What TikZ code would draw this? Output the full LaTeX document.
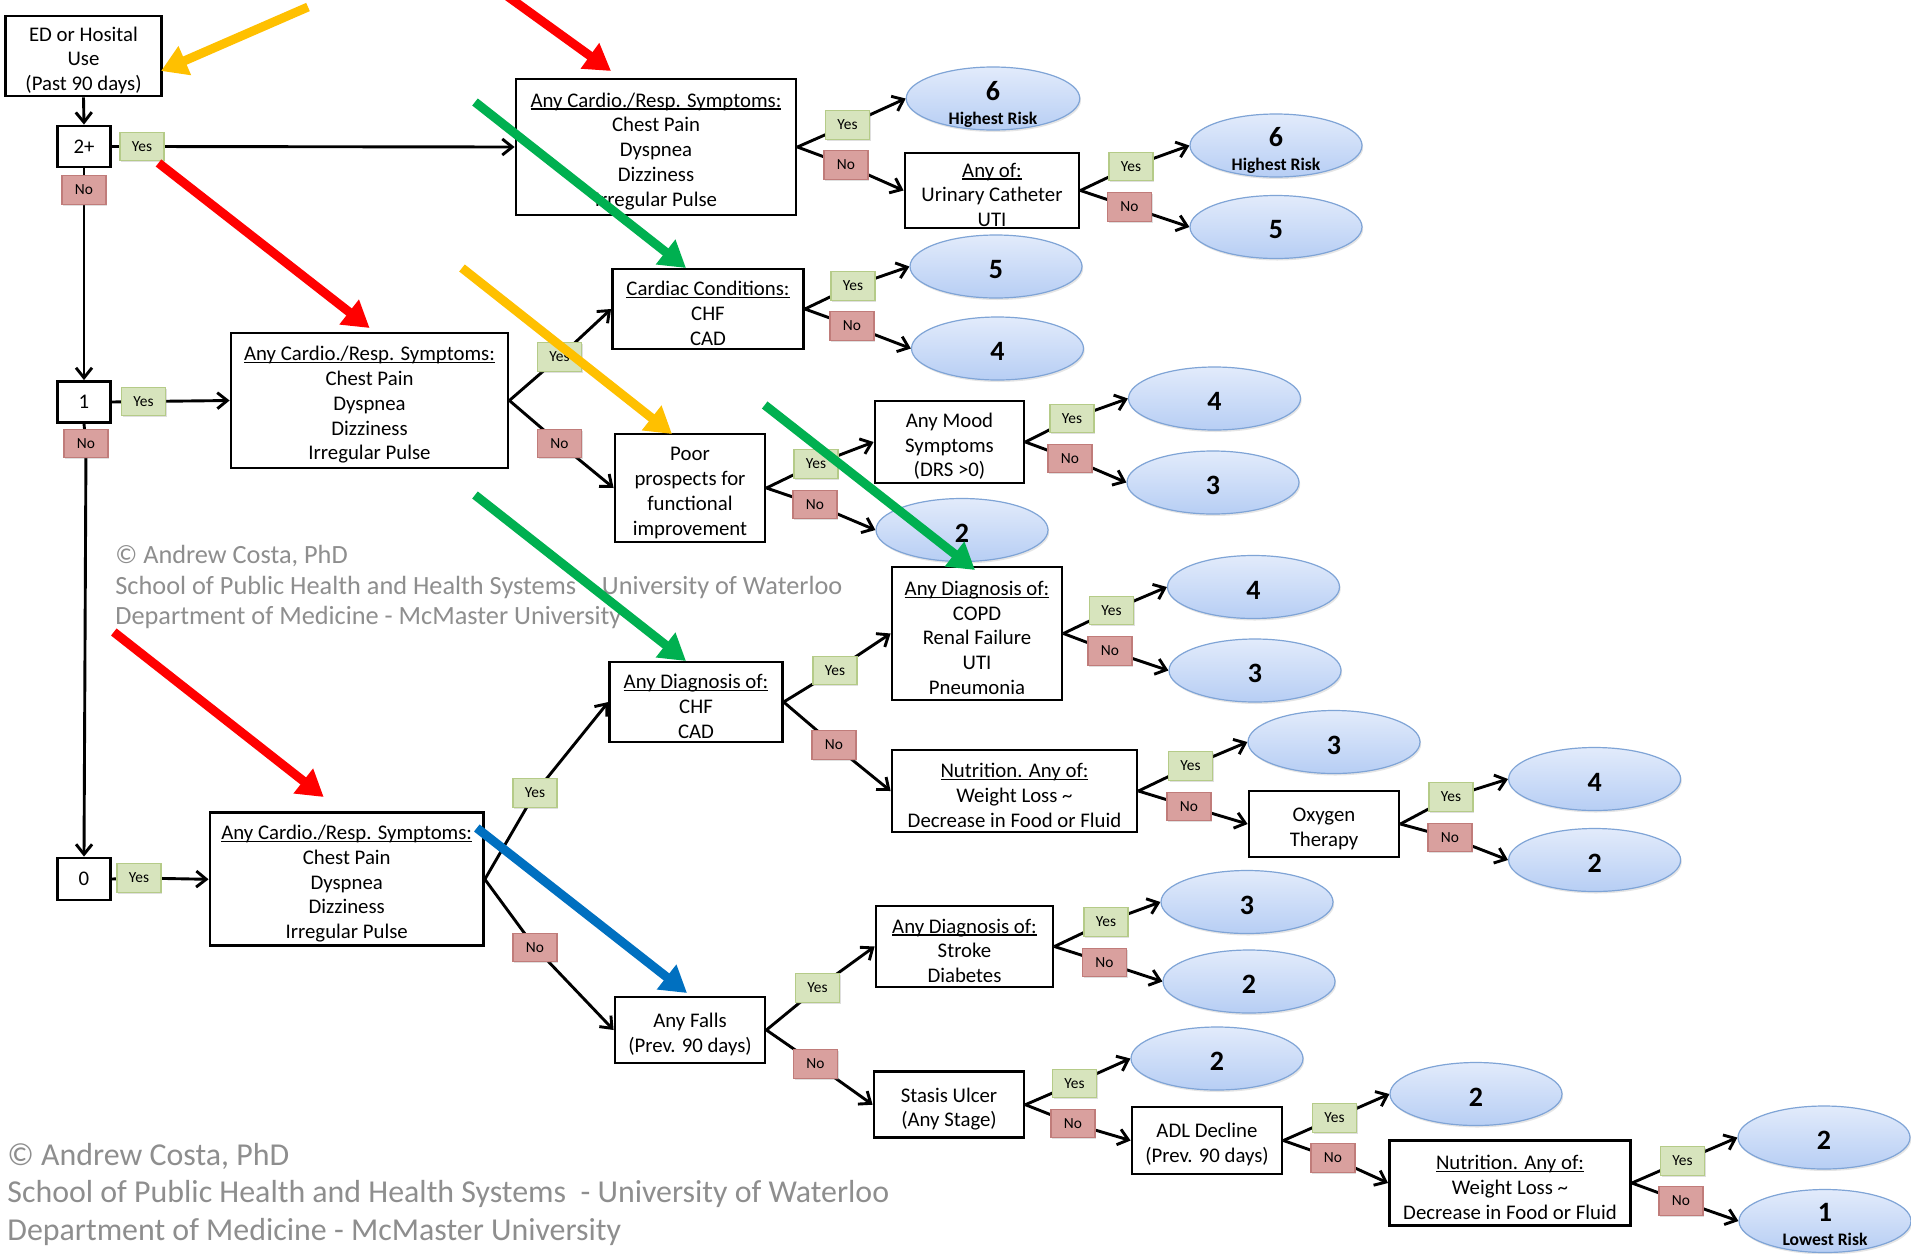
\documentclass[tikz,border=0pt]{standalone}
\usepackage{fontspec}
\setmainfont{Carlito}
\usetikzlibrary{arrows.meta,shapes.geometric,shadows}
\pgfdeclarelayer{paper}
\pgfdeclarelayer{bg}
\pgfdeclarelayer{fg}
\pgfsetlayers{paper,bg,main,fg}
\definecolor{yesfill}{HTML}{D7E4BD}
\definecolor{yesdraw}{HTML}{B5CB88}
\definecolor{nofill}{HTML}{D9A09E}
\definecolor{nodraw}{HTML}{C07C7A}
\definecolor{elltop}{HTML}{E2EBFB}
\definecolor{ellbot}{HTML}{B7CEF4}
\definecolor{elldraw}{HTML}{7FA4D6}
\definecolor{wmgray}{HTML}{8E8E8E}
\definecolor{arrred}{HTML}{FF0000}
\definecolor{arryel}{HTML}{FFC000}
\definecolor{arrgrn}{HTML}{00B050}
\definecolor{arrblu}{HTML}{0070C0}
\newcommand\ulx[1]{\setbox0\hbox{#1}\rlap{\rule[-1.2pt]{\wd0}{0.6pt}}\box0}
\newcommand\tp{\rule{0pt}{11.5pt}}
\begin{document}
\begin{tikzpicture}[x=0.5pt,y=-0.5pt,
  sbox/.style={draw=black, line width=1.4pt, fill=white, inner sep=0pt, align=center, font=\fontsize{10.4}{12.4}\selectfont},
  box/.style={sbox},
  yes/.style={draw=yesdraw, fill=yesfill, line width=0.7pt, minimum width=22pt, minimum height=14.25pt, inner sep=0pt, font=\fontsize{7.7}{9}\selectfont, drop shadow={opacity=0.25, shadow xshift=0.7pt, shadow yshift=-0.7pt}},
  no/.style={draw=nodraw, fill=nofill, line width=0.7pt, minimum width=22pt, minimum height=14.25pt, inner sep=0pt, font=\fontsize{7.7}{9}\selectfont, drop shadow={opacity=0.25, shadow xshift=0.7pt, shadow yshift=-0.7pt}},
  ell/.style={ellipse, draw=elldraw, line width=0.6pt, top color=elltop, bottom color=ellbot, minimum width=86pt, minimum height=31.5pt, inner sep=0pt, drop shadow={opacity=0.2, shadow xshift=0.6pt, shadow yshift=-1pt}},
  numfont/.style={font=\bfseries\fontsize{14}{16}\selectfont},
  num/.style={label={[numfont, yshift=-1.5pt]center:#1}},
  riskfont/.style={font=\bfseries\fontsize{8.8}{10}\selectfont, inner sep=0pt},
  conn/.style={line width=1.45pt, -{Straight Barb[length=5pt,width=8pt]}},
  bigarr/.style={line width=4.5pt, -{Triangle[length=13pt,width=15pt]}},
  wma/.style={text=wmgray, inner sep=0pt, anchor=base west, font=\fontsize{13.15}{15}\selectfont},
  wmb/.style={text=wmgray, inner sep=0pt, anchor=base west, font=\fontsize{15.95}{18}\selectfont}
]
\useasboundingbox (0,0) rectangle (1911,1253);
\begin{pgfonlayer}{paper}
\fill[white] (0,0) rectangle (1911,1253);
\end{pgfonlayer}

% watermarks
\node[wma] (wa1) at (115,563.5) {© Andrew Costa, PhD};
\node[wma] (wa2) at (115,594) {School of Public Health and Health Systems~ - University of Waterloo};
\node[wma] (wa3) at (115,624.5) {Department of Medicine - McMaster University};
\node[wmb] (wb1) at (7,1165) {© Andrew Costa, PhD};
\node[wmb] (wb2) at (7,1202.5) {School of Public Health and Health Systems~ - University of Waterloo};
\node[wmb] (wb3) at (7,1240) {Department of Medicine - McMaster University};

% left column
\node[box, minimum width=78pt, minimum height=40pt] (ED) at (83.5,56) {\tp ED or Hosital\\Use\\(Past 90 days)};
\node[sbox, minimum width=26.5pt, minimum height=20.5pt] (B2) at (84,146.5) {2+};
\node[sbox, minimum width=26.5pt, minimum height=20.5pt] (B1) at (84,402) {1};
\node[sbox, minimum width=26.5pt, minimum height=21pt] (B0) at (84,879) {0};

% decision boxes
\node[box, minimum width=140pt, minimum height=68pt] (C1) at (656,147) {\tp\ulx{Any Cardio./Resp. Symptoms:}\\Chest Pain\\Dyspnea\\Dizziness\\Irregular Pulse};
\node[box, minimum width=138.5pt, minimum height=67.5pt] (C2) at (369.5,400.5) {\tp\ulx{Any Cardio./Resp. Symptoms:}\\Chest Pain\\Dyspnea\\Dizziness\\Irregular Pulse};
\node[box, minimum width=136.75pt, minimum height=66.5pt] (C3) at (346.7,879.3) {\tp\ulx{Any Cardio./Resp. Symptoms:}\\Chest Pain\\Dyspnea\\Dizziness\\Irregular Pulse};
\node[box, minimum width=87pt, minimum height=37.5pt] (AO) at (992,190.5) {\tp\ulx{Any of:}\\Urinary Catheter\\UTI};
\node[box, minimum width=95.5pt, minimum height=40pt] (CC) at (708,309) {\tp\ulx{Cardiac Conditions:}\\CHF\\CAD};
\node[box, minimum width=75pt, minimum height=54pt] (PP) at (690,488) {\tp Poor\\prospects for\\functional\\improvement};
\node[box, minimum width=74.5pt, minimum height=41pt] (MD) at (949.5,442) {\tp Any Mood\\Symptoms\\(DRS >0)};
\node[box, minimum width=85pt, minimum height=66.5pt] (DX2) at (977,633.5) {\tp\ulx{Any Diagnosis of:}\\COPD\\Renal Failure\\UTI\\Pneumonia};
\node[box, minimum width=86.25pt, minimum height=40pt] (DX1) at (696,702) {\tp\ulx{Any Diagnosis of:}\\CHF\\CAD};
\node[box, minimum width=122.5pt, minimum height=41pt] (NU1) at (1014.5,791) {\tp\ulx{Nutrition. Any of:}\\Weight Loss \textasciitilde\\Decrease in Food or Fluid};
\node[box, minimum width=75pt, minimum height=33pt] (OX) at (1324,824) {\tp Oxygen\\Therapy};
\node[box, minimum width=75pt, minimum height=33pt] (FA) at (690,1030) {\tp Any Falls\\(Prev. 90 days)};
\node[box, minimum width=88.5pt, minimum height=40.5pt] (DX3) at (964.5,946.5) {\tp\ulx{Any Diagnosis of:}\\Stroke\\Diabetes};
\node[box, minimum width=75pt, minimum height=33pt] (SU) at (949,1104.7) {\tp Stasis Ulcer\\(Any Stage)};
\node[box, minimum width=75pt, minimum height=33.5pt] (AD) at (1207,1140.5) {\tp ADL Decline\\(Prev. 90 days)};
\node[box, minimum width=120.5pt, minimum height=42.5pt] (NU2) at (1510,1183) {\tp\ulx{Nutrition. Any of:}\\Weight Loss \textasciitilde\\Decrease in Food or Fluid};

% outcome ellipses
\node[ell, minimum width=86.75pt] (E1) at (993,98.5) {};
\node[numfont, anchor=base, inner sep=0pt] (E1n) at (993,100) {6};
\node[riskfont, anchor=base] (E1t) at (993,124) {Highest Risk};
\node[ell] (E2) at (1276,145.5) {};
\node[numfont, anchor=base, inner sep=0pt] (E2n) at (1276,146.5) {6};
\node[riskfont, anchor=base] (E2t) at (1276,170) {Highest Risk};
\node[ell, num=5] (E3) at (1276,227) {};
\node[ell, num=5] (E4) at (996,266.5) {};
\node[ell, num=4] (E5) at (997.5,348.5) {};
\node[ell, num=4] (E6) at (1214.5,398.5) {};
\node[ell, num=3] (E8) at (1213,482.5) {};
\node[ell, num=2] (E7) at (962,530) {};
\node[ell, num=4] (E9) at (1253.5,587) {};
\node[ell, num=3] (E10) at (1255,670.5) {};
\node[ell, num=3] (E11) at (1334,742) {};
\node[ell, num=4] (E12) at (1594.6,779) {};
\node[ell, num=2] (E13) at (1594.6,860) {};
\node[ell, num=3] (E14) at (1247,902) {};
\node[ell, num=2] (E15) at (1249,981.5) {};
\node[ell, num=2] (E16) at (1217,1058.5) {};
\node[ell, num=2] (E17) at (1476,1094) {};
\node[ell, num=2] (E18) at (1824,1137.5) {};
\node[ell] (E19) at (1825,1221) {};
\node[numfont, anchor=base, inner sep=0pt] (E19n) at (1825,1221.5) {1};
\node[riskfont, anchor=base] (E19t) at (1825,1245) {Lowest Risk};

% yes / no labels
\node[yes] (YB2) at (142,146.5) {Yes};
\node[no]  (NB2) at (84,190) {No};
\node[yes] (YB1) at (143.5,401.5) {Yes};
\node[no]  (NB1) at (86,443.5) {No};
\node[yes] (YB0) at (139,878) {Yes};
\node[yes] (YC1) at (847.5,125) {Yes};
\node[no]  (NC1) at (846,165) {No};
\node[yes] (YAO) at (1131,166.5) {Yes};
\node[no]  (NAO) at (1129.5,207) {No};
\node[yes] (YC2) at (559.5,357) {Yes};
\node[no]  (NC2) at (559.5,443.5) {No};
\node[yes] (YCC) at (853,286) {Yes};
\node[no]  (NCC) at (852,326) {No};
\node[yes] (YPP) at (816,464) {Yes};
\node[no]  (NPP) at (815,504.5) {No};
\node[yes] (YMD) at (1072,418.5) {Yes};
\node[no]  (NMD) at (1070,458.5) {No};
\node[yes] (YC3) at (535,793) {Yes};
\node[no]  (NC3) at (535,947.5) {No};
\node[yes] (YDX1) at (835,670.5) {Yes};
\node[no]  (NDX1) at (834,745) {No};
\node[yes] (YDX2) at (1111.5,610.5) {Yes};
\node[no]  (NDX2) at (1110,651) {No};
\node[yes] (YNU1) at (1190.5,766) {Yes};
\node[no]  (NNU1) at (1189,806.5) {No};
\node[yes] (YOX) at (1451,797) {Yes};
\node[no]  (NOX) at (1450,837.5) {No};
\node[yes] (YFA) at (817.5,988) {Yes};
\node[no]  (NFA) at (815.5,1064) {No};
\node[yes] (YDX3) at (1106,922) {Yes};
\node[no]  (NDX3) at (1104.5,962.5) {No};
\node[yes] (YSU) at (1074.5,1083.5) {Yes};
\node[no]  (NSU) at (1073,1123.5) {No};
\node[yes] (YAD) at (1334.5,1118) {Yes};
\node[no]  (NAD) at (1333,1158) {No};
\node[yes] (YNU2) at (1682.5,1161) {Yes};
\node[no]  (NNU2) at (1681,1201) {No};

% connectors
\begin{pgfonlayer}{bg}
\draw[conn] (ED.south) -- (B2.north);
\draw[conn] (B2.south) -- (NB2.center) -- (B1.north);
\draw[conn] (B1.south) -- (NB1.center) -- (B0.north);
\draw[conn] (B2.east) -- (YB2.center) -- (C1.west);
\draw[conn] (B1.east) -- (YB1.center) -- (C2.west);
\draw[conn] (B0.east) -- (YB0.center) -- (C3.west);
\foreach \x/\a/\b in {C1/E1/AO, AO/E2/E3, C2/CC/PP, CC/E4/E5, PP/MD/E7, MD/E6/E8,
  C3/DX1/FA, DX1/DX2/NU1, DX2/E9/E10, NU1/E11/OX, OX/E12/E13,
  FA/DX3/SU, DX3/E14/E15, SU/E16/AD, AD/E17/NU2, NU2/E18/E19}{
  \draw[conn] (\x.east) -- (Y\x.center) -- (\a.west);
  \draw[conn] (\x.east) -- (N\x.center) -- (\b.west);
}
\end{pgfonlayer}

% coloured pointer arrows
\coordinate (ya1) at (308,7);     \coordinate (yb1) at (161,71);
\coordinate (ra1) at (503,-7);    \coordinate (rb1) at (611,71);
\coordinate (ga1) at (475,102);   \coordinate (gb1) at (686,268);
\coordinate (ra2) at (158.5,163); \coordinate (rb2) at (369.6,328);
\coordinate (ya2) at (462,268);   \coordinate (yb2) at (672,434);
\coordinate (ga2) at (764.7,405); \coordinate (gb2) at (975,570);
\coordinate (ga3) at (475,495);   \coordinate (gb3) at (686,661);
\coordinate (ra3) at (113.8,632); \coordinate (rb3) at (323.7,797);
\coordinate (ba1) at (476.8,828); \coordinate (bb1) at (687,993);
\begin{pgfonlayer}{fg}
\draw[bigarr, color=arryel] (ya1) -- (yb1);
\draw[bigarr, color=arrred] (ra1) -- (rb1);
\draw[bigarr, color=arrgrn] (ga1) -- (gb1);
\draw[bigarr, color=arrred] (ra2) -- (rb2);
\draw[bigarr, color=arryel] (ya2) -- (yb2);
\draw[bigarr, color=arrgrn] (ga2) -- (gb2);
\draw[bigarr, color=arrgrn] (ga3) -- (gb3);
\draw[bigarr, color=arrred] (ra3) -- (rb3);
\draw[bigarr, color=arrblu] (ba1) -- (bb1);
\end{pgfonlayer}
\end{tikzpicture}
\end{document}
